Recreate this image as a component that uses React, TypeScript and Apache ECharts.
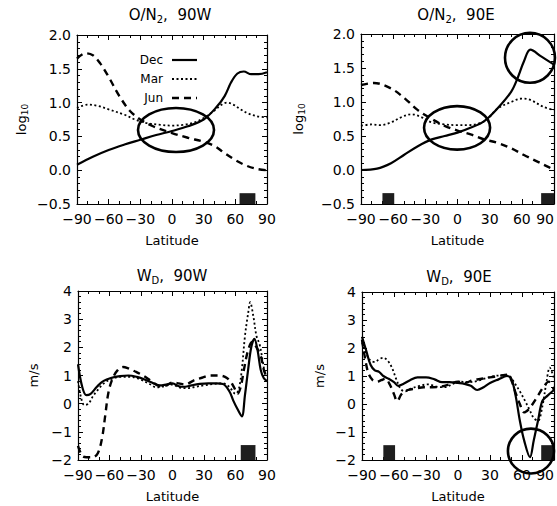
import React, { useEffect, useRef } from "react";
import * as echarts from "echarts";

const FONT = "DejaVu Sans";

const monthNames = ["Dec", "Mar", "Jun"];

// O/N2, 90W  [latitude, log10]
const on90wDec = [[-90,0.08],[-75,0.2],[-60,0.3],[-45,0.38],[-30,0.45],[-15,0.52],[0,0.58],[15,0.65],[30,0.75],[42,0.93],[50,1.1],[56,1.3],[62,1.43],[68,1.46],[75,1.42],[82,1.42],[90,1.45]];
const on90wMar = [[-90,0.92],[-80,0.97],[-70,0.95],[-60,0.9],[-45,0.82],[-35,0.75],[-25,0.7],[-10,0.67],[0,0.66],[10,0.67],[20,0.7],[30,0.77],[40,0.88],[47,0.97],[52,1.0],[58,0.97],[65,0.9],[72,0.84],[80,0.8],[90,0.78]];
const on90wJun = [[-90,1.65],[-82,1.73],[-75,1.7],[-68,1.58],[-60,1.38],[-50,1.1],[-40,0.88],[-30,0.75],[-18,0.65],[0,0.55],[15,0.48],[30,0.42],[40,0.36],[50,0.25],[60,0.15],[70,0.07],[80,0.02],[90,0.0]];

// O/N2, 90E
const on90eDec = [[-90,0.0],[-75,0.02],[-62,0.1],[-50,0.22],[-37,0.35],[-24,0.45],[-12,0.5],[0,0.55],[12,0.62],[25,0.72],[37,0.9],[50,1.15],[56,1.35],[62,1.6],[68,1.77],[78,1.67],[90,1.55]];
const on90eMar = [[-90,0.65],[-80,0.67],[-72,0.66],[-62,0.7],[-52,0.78],[-43,0.82],[-34,0.78],[-24,0.7],[-12,0.67],[0,0.66],[10,0.66],[19,0.68],[28,0.75],[37,0.9],[50,1.0],[60,1.05],[68,1.03],[80,0.93],[90,0.88]];
const on90eJun = [[-90,1.25],[-78,1.28],[-62,1.2],[-49,1.05],[-37,0.88],[-24,0.75],[-12,0.65],[0,0.58],[13,0.52],[25,0.45],[37,0.4],[50,0.32],[62,0.22],[75,0.12],[84,0.05],[90,0.0]];

// W_D, 90W  [latitude, m/s]
const wd90wDec = [[-90,1.4],[-86,0.6],[-82,0.3],[-78,0.35],[-72,0.6],[-66,0.8],[-58,0.92],[-50,0.98],[-42,1.0],[-34,0.95],[-26,0.85],[-18,0.72],[-12,0.65],[-6,0.68],[0,0.72],[6,0.62],[12,0.6],[18,0.65],[26,0.7],[34,0.72],[42,0.72],[48,0.7],[54,0.45],[58,0.1],[62,-0.2],[66,-0.45],[69,0.3],[72,1.2],[75,2.0],[78,2.3],[81,1.9],[84,1.2],[87,0.9],[90,0.8]];
const wd90wMar = [[-90,0.8],[-87,0.2],[-84,-0.05],[-80,0.0],[-76,0.25],[-72,0.45],[-66,0.7],[-60,0.85],[-50,0.95],[-40,0.95],[-30,0.85],[-22,0.7],[-15,0.58],[-8,0.62],[0,0.68],[6,0.58],[14,0.55],[22,0.6],[30,0.65],[40,0.7],[48,0.72],[54,0.6],[60,0.35],[63,0.5],[66,1.2],[69,2.4],[72,3.2],[74,3.6],[77,3.1],[80,2.4],[83,2.1],[86,1.5],[88,1.1],[90,1.0]];
const wd90wJun = [[-90,-1.5],[-86,-1.85],[-82,-1.9],[-76,-1.9],[-71,-1.75],[-67,-1.2],[-64,-0.4],[-61,0.4],[-57,0.9],[-52,1.2],[-47,1.3],[-42,1.25],[-36,1.15],[-28,1.0],[-20,0.8],[-12,0.62],[-6,0.65],[0,0.75],[6,0.72],[12,0.68],[20,0.82],[28,0.92],[36,1.0],[44,1.0],[50,0.95],[55,0.8],[59,0.55],[62,0.35],[65,0.6],[68,1.2],[72,1.9],[76,2.2],[80,2.0],[84,1.7],[87,1.2],[90,0.9]];

// W_D, 90E
const wd90eDec = [[-90,2.4],[-86,1.9],[-82,1.4],[-78,1.2],[-74,1.15],[-70,1.0],[-65,0.9],[-60,0.78],[-56,0.65],[-51,0.72],[-45,0.85],[-38,0.95],[-30,0.95],[-22,0.88],[-15,0.78],[-8,0.78],[0,0.75],[6,0.72],[12,0.65],[18,0.5],[24,0.6],[30,0.75],[38,0.88],[46,1.0],[50,0.9],[54,0.3],[58,-0.6],[62,-1.3],[67.5,-1.9],[71,-1.3],[75,-0.6],[79,0.1],[84,0.3],[90,0.5]];
const wd90eMar = [[-90,2.2],[-86,1.8],[-82,1.55],[-78,1.5],[-74,1.6],[-70,1.65],[-66,1.55],[-62,1.3],[-58,0.9],[-54,0.55],[-50,0.45],[-44,0.55],[-36,0.65],[-28,0.7],[-20,0.62],[-12,0.6],[-5,0.72],[2,0.8],[10,0.78],[18,0.82],[26,0.92],[34,1.0],[42,1.02],[48,1.0],[53,0.75],[58,0.45],[63,0.1],[67,-0.2],[71,-0.5],[75,-0.6],[79,-0.1],[83,0.8],[86,1.3],[90,0.9]];
const wd90eJun = [[-90,2.3],[-87,1.6],[-84,1.1],[-80,0.85],[-76,0.8],[-72,0.85],[-68,0.9],[-64,0.7],[-60,0.35],[-57,0.1],[-53,0.35],[-47,0.5],[-40,0.55],[-32,0.6],[-24,0.6],[-16,0.62],[-8,0.7],[0,0.8],[6,0.75],[14,0.85],[22,0.9],[30,0.95],[38,1.0],[46,1.05],[50,0.85],[54,0.4],[58,0.0],[62,-0.3],[66,-0.2],[70,0.0],[75,0.3],[80,0.6],[85,0.8],[90,0.5]];

// Black boxes [lat0, lat1, y0, y1]
const boxes1 = [[64, 79, -0.5, -0.34]];
const boxes2 = [[-70, -59, -0.5, -0.34], [78, 90, -0.5, -0.34]];
const boxes3 = [[65, 79, -2, -1.47]];
const boxes4 = [[-70, -59, -2, -1.47], [78, 90, -2, -1.47]];

// Annotation ellipses [centerLat, centerValue, radiusLat, radiusValue]
const rings1 = [[3.8, 0.595, 36, 0.325]];
const rings2 = [[-0.4, 0.62, 30.8, 0.32], [67.6, 1.65, 23.3, 0.368]];
const rings3: number[][] = [];
const rings4 = [[68.4, -1.68, 21.6, 0.8]];

const fmtNum = (v: number, digits: number) => {
  const s = Math.abs(v).toFixed(digits);
  return v < 0 ? "\u2212" + s : s;
};

export default function App() {
  const ref = useRef<HTMLDivElement>(null);
  useEffect(() => {
    document.body.style.margin = "0";
    const chart = echarts.init(ref.current!, null, { renderer: "svg" });

    const panels = [
      { grid: { left: 77, top: 35, width: 190, height: 169 }, min: -0.5, max: 2.0, interval: 0.5, digits: 1, yName: "{a|log}{s|10}", yGap: 48, data: [on90wDec, on90wMar, on90wJun], boxes: boxes1, rings: rings1, title: "{a|O/N}{s|2}{a|,  90W}", tx: 170, ty: 15, edge: false },
      { grid: { left: 361, top: 34, width: 193, height: 170 }, min: -0.5, max: 2.0, interval: 0.5, digits: 1, yName: "{a|log}{s|10}", yGap: 55, data: [on90eDec, on90eMar, on90eJun], boxes: boxes2, rings: rings2, title: "{a|O/N}{s|2}{a|,  90E}", tx: 456, ty: 15, edge: true },
      { grid: { left: 78, top: 291, width: 189, height: 169 }, min: -2, max: 4, interval: 1, digits: 0, yName: "{a|m/s}", yGap: 38, data: [wd90wDec, wd90wMar, wd90wJun], boxes: boxes3, rings: rings3, title: "{a|W}{s|D}{a|,  90W}", tx: 172, ty: 276, edge: false },
      { grid: { left: 362, top: 292, width: 192, height: 168 }, min: -2, max: 4, interval: 1, digits: 0, yName: "{a|m/s}", yGap: 36, data: [wd90eDec, wd90eMar, wd90eJun], boxes: boxes4, rings: rings4, title: "{a|W}{s|D}{a|,  90E}", tx: 459, ty: 277, edge: true },
    ];

    const lineStyles = [
      { width: 2.2, type: "solid" },
      { width: 1.8, type: [2, 2.5] },
      { width: 2.4, type: [7, 5] },
    ];

    const axisLine = { show: true, onZero: false, lineStyle: { color: "#000", width: 1.2 } };
    const tick = { show: true, inside: true, length: 5, lineStyle: { color: "#000", width: 1 } };
    const minor = (n: number) => ({ show: true, splitNumber: n, length: 3, lineStyle: { color: "#000", width: 1 } });

    const grids: any[] = [];
    const xAxes: any[] = [];
    const yAxes: any[] = [];
    const series: any[] = [];
    const graphics: any[] = [];

    panels.forEach((p, i) => {
      grids.push({ ...p.grid, containLabel: false, outerBoundsMode: "none" });
      xAxes.push({
        type: "value", gridIndex: i, min: -90, max: 90, interval: 30, position: "bottom",
        axisLine, axisTick: tick, minorTick: minor(3), splitLine: { show: false },
        axisLabel: {
          color: "#000", fontFamily: FONT, fontSize: 14, margin: 8,
          alignMaxLabel: p.edge ? "right" : null,
          formatter: (v: number) => fmtNum(v, 0),
        },
        name: "Latitude", nameLocation: "middle", nameGap: 30,
        nameTextStyle: { color: "#000", fontFamily: FONT, fontSize: 13 },
      });
      xAxes.push({
        type: "value", gridIndex: i, min: -90, max: 90, interval: 30, position: "top",
        axisLine, axisTick: tick, minorTick: minor(3), splitLine: { show: false }, axisLabel: { show: false },
      });
      yAxes.push({
        type: "value", gridIndex: i, min: p.min, max: p.max, interval: p.interval, position: "left",
        axisLine, axisTick: tick, minorTick: minor(5), splitLine: { show: false },
        axisLabel: { color: "#000", fontFamily: FONT, fontSize: 14, margin: 6, formatter: (v: number) => fmtNum(v, p.digits) },
        name: p.yName, nameLocation: "middle", nameGap: p.yGap,
        nameTextStyle: {
          color: "#000", fontFamily: FONT, fontSize: 13,
          rich: {
            a: { fontFamily: FONT, fontSize: 13, color: "#000" },
            s: { fontFamily: FONT, fontSize: 9, color: "#000", padding: [6, 0, 0, 0] },
          },
        },
      });
      yAxes.push({
        type: "value", gridIndex: i, min: p.min, max: p.max, interval: p.interval, position: "right",
        axisLine, axisTick: tick, minorTick: minor(5), splitLine: { show: false }, axisLabel: { show: false },
      });

      p.data.forEach((d, k) => {
        series.push({
          type: "line", name: monthNames[k], xAxisIndex: 2 * i, yAxisIndex: 2 * i,
          data: d, showSymbol: false, symbol: "none", smooth: 0.35,
          lineStyle: { color: "#000", ...lineStyles[k] }, itemStyle: { color: "#000" },
          z: 3,
        });
      });

      series.push({
        type: "custom", xAxisIndex: 2 * i, yAxisIndex: 2 * i, data: p.boxes, clip: false, z: 2,
        renderItem: (params: any, api: any) => {
          const a = api.coord([api.value(0), api.value(3)]);
          const b = api.coord([api.value(1), api.value(2)]);
          return { type: "rect", shape: { x: a[0], y: a[1], width: b[0] - a[0], height: b[1] - a[1] }, style: { fill: "#1e1e1e" } };
        },
      });

      if (p.rings.length) {
        series.push({
          type: "custom", xAxisIndex: 2 * i, yAxisIndex: 2 * i, data: p.rings, clip: false, z: 4,
          renderItem: (params: any, api: any) => {
            const c = api.coord([api.value(0), api.value(1)]);
            const e = api.coord([api.value(0) + api.value(2), api.value(1) + api.value(3)]);
            return {
              type: "ellipse",
              shape: { cx: c[0], cy: c[1], rx: Math.abs(e[0] - c[0]), ry: Math.abs(c[1] - e[1]) },
              style: { fill: "none", stroke: "#000", lineWidth: 2.6 },
            };
          },
        });
      }

      graphics.push({
        type: "text", x: p.tx, y: p.ty,
        style: {
          text: p.title, align: "center", verticalAlign: "middle",
          rich: {
            a: { fontFamily: FONT, fontSize: 15, fill: "#000" },
            s: { fontFamily: FONT, fontSize: 10, fill: "#000", padding: [8, 0, 0, 0] },
          },
        },
      });
    });

    // Legend (panel 1), drawn as text + line samples
    const legendY = [60, 79, 98];
    monthNames.forEach((m, k) => {
      graphics.push({
        type: "text", x: 163, y: legendY[k],
        style: { text: m, align: "right", verticalAlign: "middle", fontFamily: FONT, fontSize: 12, fill: "#000" },
      });
      graphics.push({
        type: "line", shape: { x1: 172, y1: legendY[k], x2: 197, y2: legendY[k] },
        style: {
          stroke: "#000", lineWidth: lineStyles[k].width,
          lineDash: Array.isArray(lineStyles[k].type) ? (lineStyles[k].type as number[]) : null,
        },
      });
    });

    chart.setOption({
      animation: false,
      backgroundColor: "#fff",
      grid: grids,
      xAxis: xAxes,
      yAxis: yAxes,
      series,
      graphic: graphics,
    });
    return () => chart.dispose();
  }, []);
  return <div ref={ref} style={{ width: 557, height: 506 }} />;
}
